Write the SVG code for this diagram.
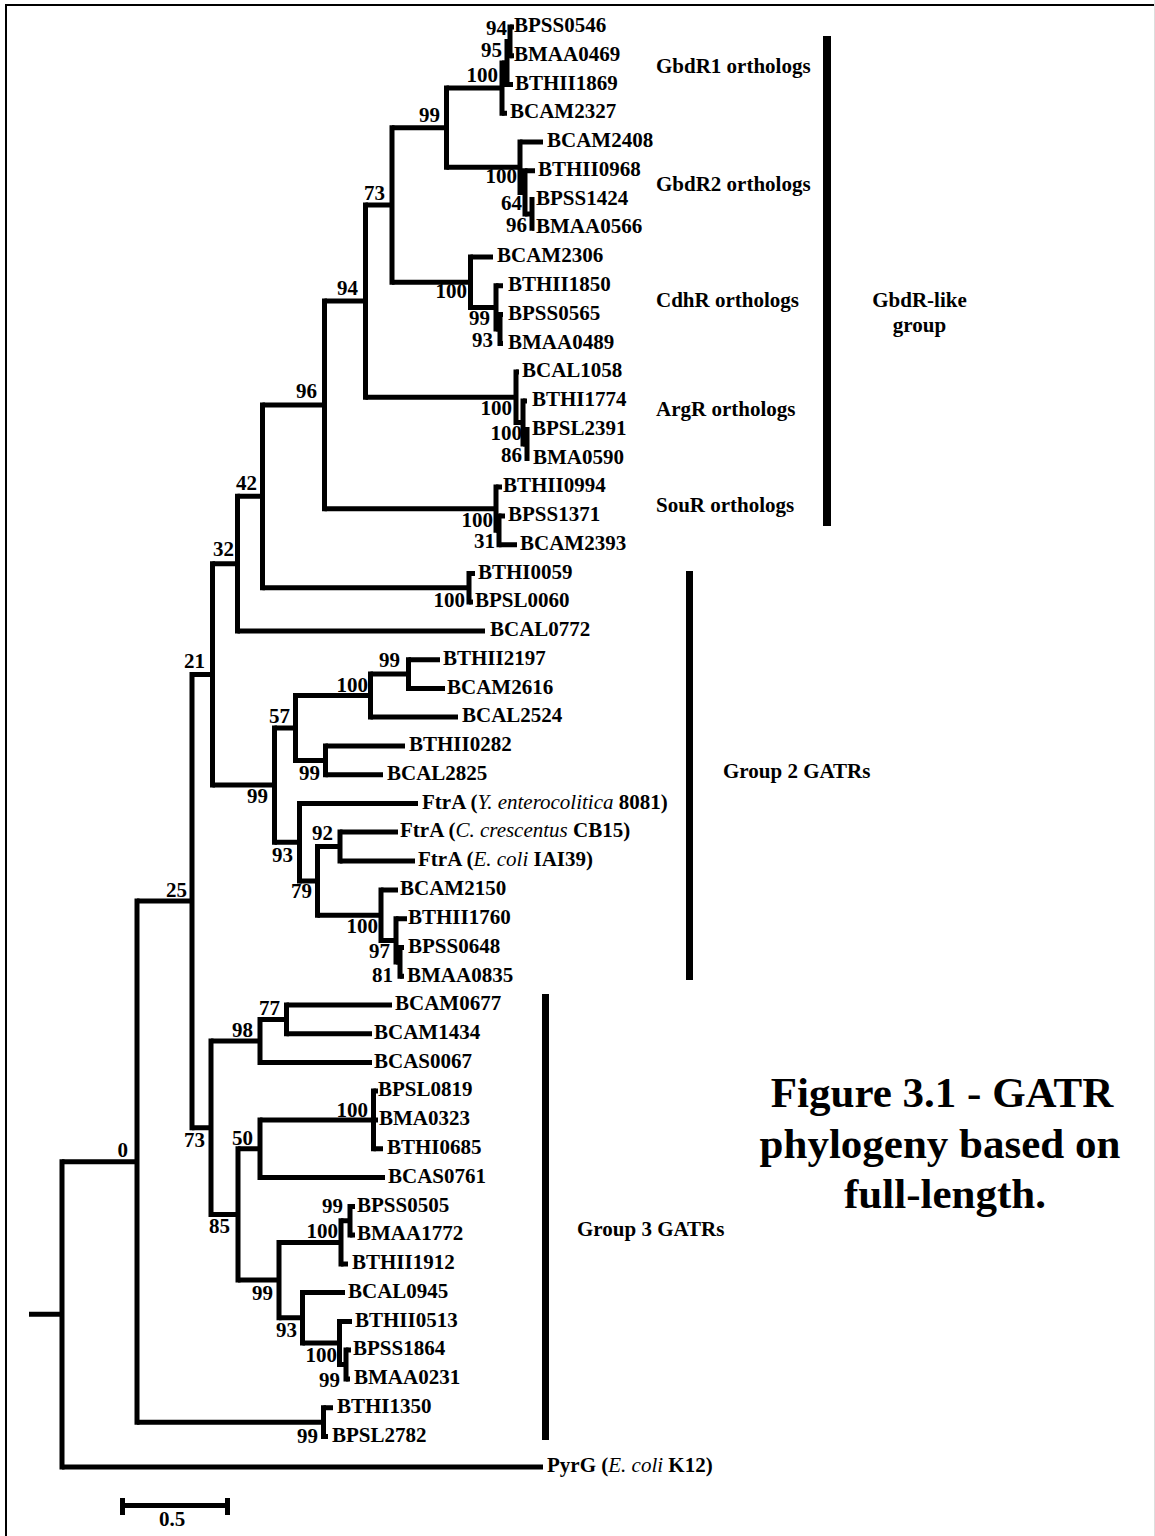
<svg xmlns="http://www.w3.org/2000/svg" width="1155" height="1536" viewBox="0 0 1155 1536">
<style>
text{font-family:"Liberation Serif","Times New Roman",serif;font-weight:bold;font-size:21px;fill:#000}
.bs{text-anchor:end}
.it{font-style:italic;font-weight:normal}
.v{stroke:#000;stroke-width:5;fill:none;stroke-linecap:square}
.h{stroke:#000;stroke-width:5;fill:none;stroke-linecap:butt}
.bar{fill:#000}
.title{font-size:43px;text-anchor:middle}
.grp{text-anchor:middle}
</style>
<rect width="1155" height="1536" fill="#fff"/>
<path d="M6 1536V5H1155" stroke="#000" stroke-width="2" fill="none"/>
<path d="M1154.5 0V1536" stroke="#ddd" stroke-width="1" fill="none"/>

<g id="connectors">
<path class="v" d="M510 27V55.8M507 41.4V84.5M502 63V113.3M532 199.6V228.3M525 170.8V214M520 142V192.4M446.5 88.1V167.2M500 314.6V343.4M496 285.8V329M470.5 257V307.4M392 127.7V282.2M527 429.6V458.4M523 400.9V444M516 372V422.5M365.5 205V397.2M499 515.9V544.7M496 487V530.3M324.5 301.1V508.7M469 573.4V602M262.5 404.9V587.7M237.5 496.3V631M408.5 659.7V688.5M370.5 674.1V717M325.5 746V774.8M295.5 695.6V760.4M340 832V861M400 947.6V976.3M396 918.8V962M381 890V940.4M317.5 846.5V915.2M299.5 803.6V880.9M274.5 728V842.2M212.5 563.7V785.1M286.5 1005V1033.8M260 1019.4V1062.6M373.5 1091V1148.8M260 1119.9V1177.6M350 1206.4V1235M341 1220.7V1264M346 1350V1379M339.5 1321.4V1364.5M302.5 1292.6V1343M279 1242.4V1317.8M238 1148.8V1280.1M211 1041V1214.5M192 674.4V1127.8M323.5 1407.8V1436.6M137 901.1V1422.2M62 1161.7V1467"/>
<path class="h" d="M510 27H514M510 55.8H514M507 41.4H510M507 84.5H513M502 63H507M502 113.3H507M532 199.6H534M532 228.3H534M525 170.8H535M525 214H532M520 142H543M520 192.4H525M446.5 88.1H502M446.5 167.2H520M500 314.6H503M500 343.4H503M496 285.8H503M496 329H500M470.5 257H493M470.5 307.4H496M392 127.7H446.5M392 282.2H470.5M527 429.6H529M527 458.4H529M523 400.9H527M523 444H527M516 372H519M516 422.5H523M365.5 205H392M365.5 397.2H516M499 515.9H505M499 544.7H517M496 487H502M496 530.3H499M324.5 301.1H365.5M324.5 508.7H496M469 573.4H475M469 602H473M262.5 404.9H324.5M262.5 587.7H469M237.5 496.3H262.5M237.5 631H485M408.5 659.7H440M408.5 688.5H445M370.5 674.1H408.5M370.5 717H458M325.5 746H405M325.5 774.8H383M295.5 695.6H370.5M295.5 760.4H325.5M340 832H398M340 861H415M400 947.6H404M400 976.3H404M396 918.8H407M396 962H400M381 890H398M381 940.4H396M317.5 846.5H340M317.5 915.2H381M299.5 803.6H418M299.5 880.9H317.5M274.5 728H295.5M274.5 842.2H299.5M212.5 563.7H237.5M212.5 785.1H274.5M286.5 1005H392M286.5 1033.8H372M260 1019.4H286.5M260 1062.6H372M373.5 1091H378M373.5 1120H378M373.5 1148.8H383M260 1119.9H373.5M260 1177.6H385M350 1206.4H355M350 1235H355M341 1220.7H350M341 1264H348M346 1350H351M346 1379H350M339.5 1321.4H352M339.5 1364.5H346M302.5 1292.6H345M302.5 1343H339.5M279 1242.4H341M279 1317.8H302.5M238 1148.8H260M238 1280.1H279M211 1041H260M211 1214.5H238M192 674.4H212.5M192 1127.8H211M323.5 1407.8H333M323.5 1436.6H328M137 901.1H192M137 1422.2H323.5M62 1161.7H137M62 1467H543M29 1314.3H62"/>
</g>

<g id="leaves">
<g id="leaf-BPSS0546"><text x="514" y="32">BPSS0546</text></g>
<g id="leaf-BMAA0469"><text x="514" y="61">BMAA0469</text></g>
<g id="leaf-BTHII1869"><text x="515" y="89.5">BTHII1869</text></g>
<g id="leaf-BCAM2327"><text x="510" y="118">BCAM2327</text></g>
<g id="leaf-BCAM2408"><text x="547" y="147">BCAM2408</text></g>
<g id="leaf-BTHII0968"><text x="538" y="176">BTHII0968</text></g>
<g id="leaf-BPSS1424"><text x="536" y="204.5">BPSS1424</text></g>
<g id="leaf-BMAA0566"><text x="536" y="233">BMAA0566</text></g>
<g id="leaf-BCAM2306"><text x="497" y="262">BCAM2306</text></g>
<g id="leaf-BTHII1850"><text x="508" y="291">BTHII1850</text></g>
<g id="leaf-BPSS0565"><text x="508" y="319.5">BPSS0565</text></g>
<g id="leaf-BMAA0489"><text x="508" y="348.5">BMAA0489</text></g>
<g id="leaf-BCAL1058"><text x="522" y="377">BCAL1058</text></g>
<g id="leaf-BTHI1774"><text x="532" y="406">BTHI1774</text></g>
<g id="leaf-BPSL2391"><text x="532" y="434.5">BPSL2391</text></g>
<g id="leaf-BMA0590"><text x="533" y="463.5">BMA0590</text></g>
<g id="leaf-BTHII0994"><text x="503" y="492">BTHII0994</text></g>
<g id="leaf-BPSS1371"><text x="508" y="521">BPSS1371</text></g>
<g id="leaf-BCAM2393"><text x="520" y="550">BCAM2393</text></g>
<g id="leaf-BTHI0059"><text x="478" y="578.5">BTHI0059</text></g>
<g id="leaf-BPSL0060"><text x="475" y="607">BPSL0060</text></g>
<g id="leaf-BCAL0772"><text x="490" y="636">BCAL0772</text></g>
<g id="leaf-BTHII2197"><text x="443" y="665">BTHII2197</text></g>
<g id="leaf-BCAM2616"><text x="447" y="693.5">BCAM2616</text></g>
<g id="leaf-BCAL2524"><text x="462" y="722">BCAL2524</text></g>
<g id="leaf-BTHII0282"><text x="409" y="751">BTHII0282</text></g>
<g id="leaf-BCAL2825"><text x="387" y="780">BCAL2825</text></g>
<g id="leaf-FtrA-Y"><text x="422" y="808.5">FtrA (<tspan class="it">Y. enterocolitica</tspan> 8081)</text></g>
<g id="leaf-FtrA-C"><text x="400" y="837">FtrA (<tspan class="it">C. crescentus</tspan> CB15)</text></g>
<g id="leaf-FtrA-E"><text x="418" y="866">FtrA (<tspan class="it">E. coli</tspan> IAI39)</text></g>
<g id="leaf-BCAM2150"><text x="400" y="895">BCAM2150</text></g>
<g id="leaf-BTHII1760"><text x="408" y="924">BTHII1760</text></g>
<g id="leaf-BPSS0648"><text x="408" y="952.5">BPSS0648</text></g>
<g id="leaf-BMAA0835"><text x="407" y="981.5">BMAA0835</text></g>
<g id="leaf-BCAM0677"><text x="395" y="1010">BCAM0677</text></g>
<g id="leaf-BCAM1434"><text x="374" y="1039">BCAM1434</text></g>
<g id="leaf-BCAS0067"><text x="374" y="1067.5">BCAS0067</text></g>
<g id="leaf-BPSL0819"><text x="378" y="1096">BPSL0819</text></g>
<g id="leaf-BMA0323"><text x="379" y="1125">BMA0323</text></g>
<g id="leaf-BTHI0685"><text x="387" y="1154">BTHI0685</text></g>
<g id="leaf-BCAS0761"><text x="388" y="1182.5">BCAS0761</text></g>
<g id="leaf-BPSS0505"><text x="357" y="1211.5">BPSS0505</text></g>
<g id="leaf-BMAA1772"><text x="357" y="1240">BMAA1772</text></g>
<g id="leaf-BTHII1912"><text x="352" y="1269">BTHII1912</text></g>
<g id="leaf-BCAL0945"><text x="348" y="1297.5">BCAL0945</text></g>
<g id="leaf-BTHII0513"><text x="355" y="1326.5">BTHII0513</text></g>
<g id="leaf-BPSS1864"><text x="353" y="1355">BPSS1864</text></g>
<g id="leaf-BMAA0231"><text x="354" y="1384">BMAA0231</text></g>
<g id="leaf-BTHI1350"><text x="337" y="1413">BTHI1350</text></g>
<g id="leaf-BPSL2782"><text x="332" y="1441.5">BPSL2782</text></g>
<g id="leaf-PyrG"><text x="547" y="1472">PyrG (<tspan class="it">E. coli</tspan> K12)</text></g>
</g>

<g id="bootstrap">
<text class="bs" x="507" y="35">94</text>
<text class="bs" x="502" y="57">95</text>
<text class="bs" x="498" y="82">100</text>
<text class="bs" x="440" y="122">99</text>
<text class="bs" x="517" y="183">100</text>
<text class="bs" x="522" y="210">64</text>
<text class="bs" x="527" y="232">96</text>
<text class="bs" x="385" y="200">73</text>
<text class="bs" x="467" y="298">100</text>
<text class="bs" x="490" y="325">99</text>
<text class="bs" x="493" y="347">93</text>
<text class="bs" x="358" y="295">94</text>
<text class="bs" x="512" y="415">100</text>
<text class="bs" x="522" y="440">100</text>
<text class="bs" x="522" y="462">86</text>
<text class="bs" x="317" y="398">96</text>
<text class="bs" x="493" y="527">100</text>
<text class="bs" x="495" y="548">31</text>
<text class="bs" x="257" y="490">42</text>
<text class="bs" x="465" y="607">100</text>
<text class="bs" x="234" y="556">32</text>
<text class="bs" x="205" y="668">21</text>
<text class="bs" x="400" y="667">99</text>
<text class="bs" x="368" y="692">100</text>
<text class="bs" x="290" y="723">57</text>
<text class="bs" x="320" y="780">99</text>
<text class="bs" x="268" y="803">99</text>
<text class="bs" x="333" y="840">92</text>
<text class="bs" x="293" y="862">93</text>
<text class="bs" x="312" y="898">79</text>
<text class="bs" x="378" y="933">100</text>
<text class="bs" x="390" y="958">97</text>
<text class="bs" x="393" y="982">81</text>
<text class="bs" x="187" y="897">25</text>
<text class="bs" x="280" y="1015">77</text>
<text class="bs" x="253" y="1037">98</text>
<text class="bs" x="368" y="1117">100</text>
<text class="bs" x="253" y="1145">50</text>
<text class="bs" x="205" y="1147">73</text>
<text class="bs" x="230" y="1233">85</text>
<text class="bs" x="343" y="1213">99</text>
<text class="bs" x="338" y="1238">100</text>
<text class="bs" x="273" y="1300">99</text>
<text class="bs" x="297" y="1337">93</text>
<text class="bs" x="337" y="1362">100</text>
<text class="bs" x="340" y="1387">99</text>
<text class="bs" x="318" y="1443">99</text>
<text class="bs" x="128" y="1157">0</text>
</g>

<g id="groups">
<g id="grp-gbdr1"><text x="656" y="73">GbdR1 orthologs</text></g>
<g id="grp-gbdr2"><text x="656" y="191">GbdR2 orthologs</text></g>
<g id="grp-cdhr"><text x="656" y="307">CdhR orthologs</text></g>
<g id="grp-argr"><text x="656" y="416">ArgR orthologs</text></g>
<g id="grp-sour"><text x="656" y="512">SouR orthologs</text></g>
<g id="grp-gbdrlike"><rect class="bar" x="823" y="36" width="8" height="490"/><text class="grp" x="919.5" y="307">GbdR-like</text><text class="grp" x="919.5" y="332">group</text></g>
<g id="grp-group2"><rect class="bar" x="686" y="571" width="7" height="409"/><text x="723" y="778">Group 2 GATRs</text></g>
<g id="grp-group3"><rect class="bar" x="542" y="994" width="7" height="446"/><text x="577" y="1236">Group 3 GATRs</text></g>
</g>

<g id="scale">
<path d="M122.5 1505.5H227.5" stroke="#000" stroke-width="5"/>
<rect class="bar" x="120" y="1498" width="5" height="17"/>
<rect class="bar" x="225" y="1498" width="5" height="17"/>
<text x="172" y="1526" text-anchor="middle">0.5</text>
</g>

<g id="title">
<text class="title" x="942" y="1107">Figure 3.1 - GATR</text>
<text class="title" x="940" y="1158">phylogeny based on</text>
<text class="title" x="945" y="1208">full-length.</text>
</g>
</svg>
